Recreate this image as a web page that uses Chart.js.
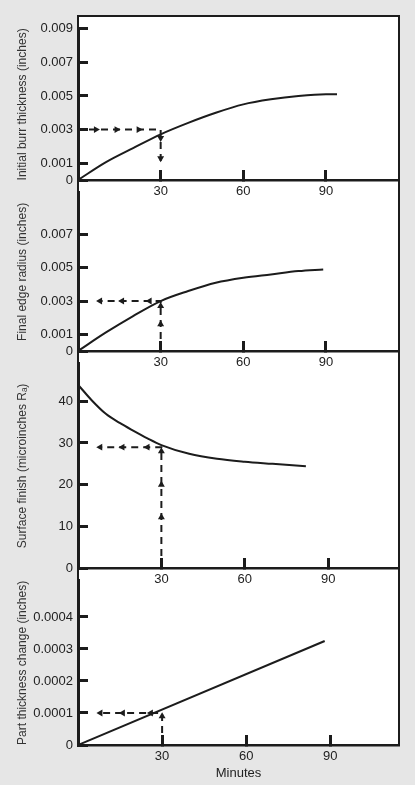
<!DOCTYPE html>
<html>
<head>
<meta charset="utf-8">
<script src="https://cdn.jsdelivr.net/npm/chart.js@4.4.1/dist/chart.umd.min.js"></script>
<style>
  body { margin: 0; background: #e6e6e6; }
  #wrap { position: relative; width: 415px; height: 785px; overflow: hidden; }
  #box { position: absolute; left: 77px; top: 15px; width: 319px; height: 727px; background: #fff; border: 2px solid #1c1c1c; }
  canvas { position: absolute; left: 0; }
</style>
</head>
<body>
<div id="wrap">
  <div id="box"></div>
  <canvas id="burrChart"></canvas>
  <canvas id="edgeChart"></canvas>
  <canvas id="finishChart"></canvas>
  <canvas id="thickChart"></canvas>
</div>
<script>
// x axis (minutes), shared by all four panels
const xTicks = [30, 60, 90];

// panel 1 - initial burr thickness
const burrMinutes = [0, 10, 20, 30, 40, 50, 60, 70, 80, 90, 94];
const burrValues = [0, 0.00105, 0.0019, 0.00272, 0.0034, 0.0040, 0.0045, 0.0048, 0.0050, 0.0051, 0.0051];
const burrTicks = [0, 0.001, 0.003, 0.005, 0.007, 0.009];
const burrTickLabels = ['0', '0.001', '0.003', '0.005', '0.007', '0.009'];
const burrGuideMinutes = [4, 6.5, 14, 22, 30, 30, 30, 30];
const burrGuideValues = [0.003, 0.003, 0.003, 0.003, 0.003, 0.0025, 0.0013, 0.001];
const burrGuideArrows = [false, true, true, true, false, true, true, false];

// panel 2 - final edge radius
const edgeMinutes = [0, 10, 20, 30, 40, 50, 60, 70, 80, 89];
const edgeValues = [0, 0.0011, 0.0021, 0.0030, 0.0036, 0.0041, 0.0044, 0.0046, 0.0048, 0.0049];
const edgeTicks = [0, 0.001, 0.003, 0.005, 0.007];
const edgeTickLabels = ['0', '0.001', '0.003', '0.005', '0.007'];
const edgeGuideMinutes = [30, 30, 30, 30, 26, 16, 8];
const edgeGuideValues = [0, 0.0016, 0.0027, 0.003, 0.003, 0.003, 0.003];
const edgeGuideArrows = [false, true, true, false, true, true, true];

// panel 3 - surface finish
const finishMinutes = [0, 5, 10, 15, 20, 25, 30, 40, 50, 60, 70, 82];
const finishValues = [44, 40.2, 37, 34.8, 32.9, 31.1, 29.5, 27.4, 26.2, 25.5, 25, 24.4];
const finishTicks = [0, 10, 20, 30, 40];
const finishTickLabels = ['0', '10', '20', '30', '40'];
const finishGuideMinutes = [30, 30, 30, 30, 30, 25, 16, 8];
const finishGuideValues = [0, 12.2, 20, 28, 29, 29, 29, 29];
const finishGuideArrows = [false, true, true, true, false, true, true, true];

// panel 4 - part thickness change
const thickMinutes = [0, 88];
const thickValues = [0, 0.000325];
const thickTicks = [0, 0.0001, 0.0002, 0.0003, 0.0004];
const thickTickLabels = ['0', '0.0001', '0.0002', '0.0003', '0.0004'];
const thickGuideMinutes = [30, 30, 30, 26, 16, 8];
const thickGuideValues = [0, 0.00009, 0.0001, 0.0001, 0.0001, 0.0001];
const thickGuideArrows = [false, true, false, true, true, true];

const ink = '#1c1c1c';
const fontFamily = "'Liberation Sans Narrow', 'Arial Narrow', 'Liberation Sans', Arial, sans-serif";

function toPoints(xs, ys) {
  return xs.map((x, i) => ({ x: x, y: ys[i] }));
}

// arrow points along the direction of travel
function arrowRotation(xs, ys, i) {
  let a = i, b = i + 1;
  if (b >= xs.length) { a = i - 1; b = i; }
  const dx = xs[b] - xs[a];
  const dy = ys[b] - ys[a];
  if (Math.abs(dx) > 0) return dx > 0 ? 90 : 270;
  return dy > 0 ? 0 : 180;
}

function drawPanel(p) {
  const canvas = document.getElementById(p.id);
  const padTop = 10;
  canvas.width = 415;
  canvas.height = p.bottom - p.top + padTop + p.axisH;
  canvas.style.top = (p.top - padTop) + 'px';

  new Chart(canvas.getContext('2d'), {
    type: 'scatter',
    data: {
      datasets: [{
        data: toPoints(p.minutes, p.values),
        showLine: true,
        borderColor: ink,
        borderWidth: 2,
        pointRadius: 0,
        cubicInterpolationMode: 'monotone'
      }, {
        data: toPoints(p.guideX, p.guideY),
        showLine: true,
        borderColor: ink,
        borderWidth: 2,
        borderDash: [7, 5],
        tension: 0,
        pointStyle: 'triangle',
        pointRadius: ctx => p.arrows[ctx.dataIndex] ? 4 : 0,
        pointRotation: ctx => arrowRotation(p.guideX, p.guideY, ctx.dataIndex),
        pointBackgroundColor: ink,
        pointBorderColor: ink,
        pointBorderWidth: 0
      }]
    },
    options: {
      responsive: false,
      animation: false,
      layout: { padding: { top: padTop, right: 16, left: 0, bottom: 0 } },
      plugins: { legend: { display: false }, tooltip: { enabled: false } },
      scales: {
        x: {
          type: 'linear',
          min: 0,
          max: p.xMax,
          afterBuildTicks: s => { s.ticks = xTicks.map(v => ({ value: v })); },
          afterFit: s => { s.height = p.axisH; },
          grid: { drawOnChartArea: false, tickLength: -10, tickWidth: 3, tickColor: ink },
          border: { color: ink, width: 2.5 },
          ticks: { padding: 14, color: '#222', font: { family: fontFamily, size: 13 }, maxRotation: 0 },
          title: {
            display: !!p.xTitle,
            text: p.xTitle || '',
            color: '#222',
            font: { family: fontFamily, size: 13 },
            padding: { top: 0, bottom: 4 }
          }
        },
        y: {
          min: 0,
          max: p.yMax,
          afterBuildTicks: s => { s.ticks = p.ticks.map(v => ({ value: v })); },
          afterFit: s => { s.width = 78; },
          grid: { drawOnChartArea: false, tickLength: -10, tickWidth: 3, tickColor: ink },
          border: { color: ink, width: 3 },
          ticks: {
            padding: 15,
            color: '#222',
            font: { family: fontFamily, size: 13 },
            callback: (v, i) => p.tickLabels[i]
          },
          title: {
            display: true,
            text: p.yTitle,
            color: '#333',
            font: { family: fontFamily, size: 12 },
            padding: { top: 15, bottom: 0 }
          }
        }
      }
    }
  });
}

drawPanel({
  id: 'burrChart', top: 16, bottom: 180, axisH: 30, xMax: 116.5, yMax: 0.009,
  minutes: burrMinutes, values: burrValues, ticks: burrTicks, tickLabels: burrTickLabels,
  guideX: burrGuideMinutes, guideY: burrGuideValues, arrows: burrGuideArrows,
  yTitle: 'Initial burr thickness (inches)'
});

drawPanel({
  id: 'edgeChart', top: 180, bottom: 351, axisH: 30, xMax: 116.5, yMax: 0.0095,
  minutes: edgeMinutes, values: edgeValues, ticks: edgeTicks, tickLabels: edgeTickLabels,
  guideX: edgeGuideMinutes, guideY: edgeGuideValues, arrows: edgeGuideArrows,
  yTitle: 'Final edge radius (inches)'
});

drawPanel({
  id: 'finishChart', top: 351, bottom: 568, axisH: 30, xMax: 115.5, yMax: 49,
  minutes: finishMinutes, values: finishValues, ticks: finishTicks, tickLabels: finishTickLabels,
  guideX: finishGuideMinutes, guideY: finishGuideValues, arrows: finishGuideArrows,
  yTitle: 'Surface finish (microinches R\u2090)'
});

drawPanel({
  id: 'thickChart', top: 568, bottom: 745, axisH: 40, xMax: 114.5, yMax: 0.000513,
  minutes: thickMinutes, values: thickValues, ticks: thickTicks, tickLabels: thickTickLabels,
  guideX: thickGuideMinutes, guideY: thickGuideValues, arrows: thickGuideArrows,
  yTitle: 'Part thickness change (inches)', xTitle: 'Minutes'
});
</script>
</body>
</html>
